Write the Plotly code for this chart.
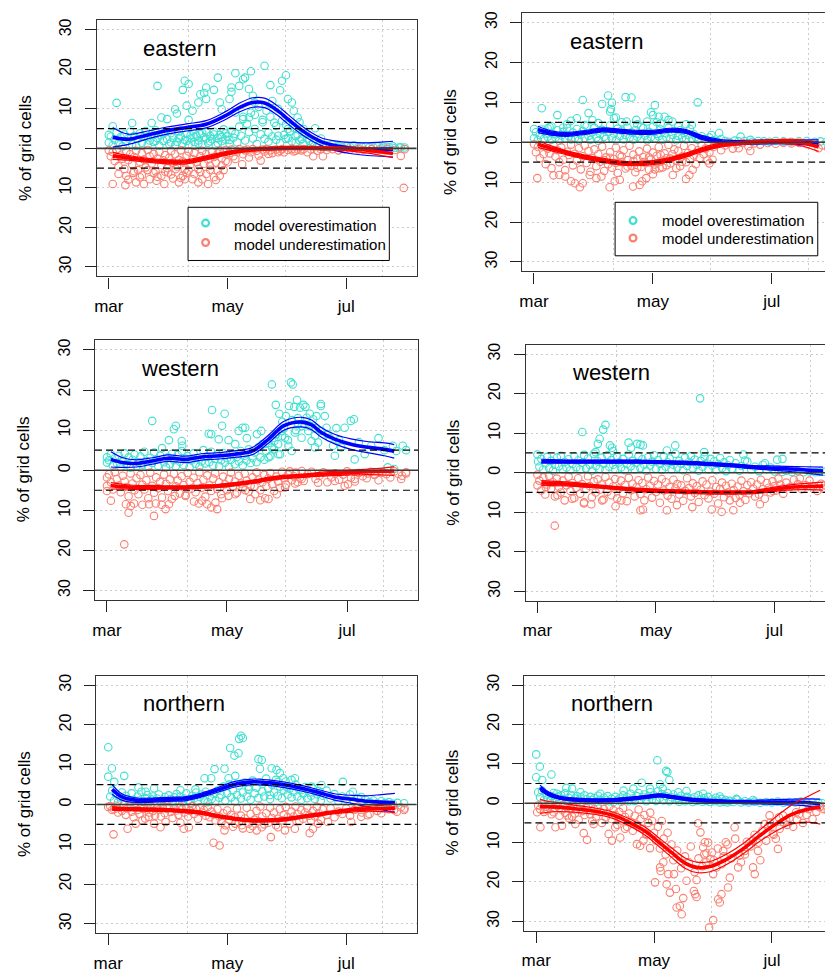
import plotly.graph_objects as go

W, H = 833, 976          # target picture size
BODY_MARGIN = 8          # default page margin around the plot div
FIG_W, FIG_H = W - BODY_MARGIN, H - BODY_MARGIN

# ---------------- axis data ----------------
MONTH_TICKS = [0, 61, 122]          # days since 1 March
MONTH_LABELS = ["mar", "may", "jul"]
GRID_DAYS = [40.7, 90.7, 140.7]
PCT_TICKS = [-30, -20, -10, 0, 10, 20, 30]
PCT_LABELS = ["30", "20", "10", "0", "10", "20", "30"]
THRESHOLDS = [5, -5]
LEGEND_LABELS = ["model overestimation", "model underestimation"]

# ---------------- eastern (left) ----------------
E_L_OVER = [
    (4,11.5),(2,5.6),(0,3.4),(12,6.4),(25,15.8),(27,7.8),(30,7.4),(22,6.4),(34,9.9),(35,8.8),
    (38,14.8),(39,17.1),(41,16.3),(40,10.8),(43,9.5),(41,7.2),(46,11.6),(47,13.7),(50,15.4),(50,12.5),
    (49,14.0),(56,17.9),(54,14.8),(57,11.6),(58,9.9),(62,12.5),(63,14.3),(63,15.4),(65,19.0),(67,15.8),
    (69,17.5),(70,17.9),(72,15.0),(73,19.5),(74,13.3),(75,11.6),(80,20.9),(83,16.0),(84,12.0),(88,14.7),
    (91,18.5),(89,17.1),(92,12.5),(94,11.6),(95,9.5),(97,7.8),(98,6.6),(100,4.9),(106,5.1),(109,2.5),
    (65,9.1),(69,7.4),(72,7.8),(75,4.9),(79,6.6),(82,4.0),(86,5.7),(87,3.2),(91,2.4),(92,4.9),(96,1.5),
    (0,1.5),(1,3.0),(2,0.8),(3,2.2),(4,4.0),(5,1.2),(6,2.8),(7,0.5),(8,3.5),(9,1.8),
    (10,2.5),(11,4.2),(12,1.0),(13,3.1),(14,0.6),(15,2.4),(16,3.8),(17,1.4),(18,2.9),(19,4.4),
    (20,0.9),(21,2.0),(22,3.6),(23,1.6),(24,4.6),(25,2.6),(26,0.7),(27,3.3),(28,1.9),(29,4.1),
    (30,2.3),(31,1.1),(32,3.9),(33,2.7),(34,0.8),(35,1.7),(36,4.3),(37,3.0),(38,1.3),(39,2.1),
    (40,3.7),(41,0.9),(42,2.5),(43,4.5),(44,1.6),(45,3.2),(46,2.0),(47,3.6),(48,1.0),(49,2.8),
    (50,4.0),(51,1.4),(52,3.1),(53,2.3),(54,4.2),(55,0.7),(56,2.6),(57,3.4),(58,1.8),(59,4.8),
    (60,2.2),(61,3.0),(62,1.2),(63,4.4),(64,2.7),(66,1.5),(68,3.2),(70,2.0),(72,4.1),(74,2.5),
    (76,1.1),(78,3.6),(80,2.4),(82,1.7),(84,3.0),(86,2.2),(88,1.3),(90,3.4),(92,2.6),(94,1.8),
    (96,3.1),(98,2.0),(100,1.2),(102,2.5),(104,0.8),
    (20,3.0),(24,1.9),(28,3.8),(32,1.5),(36,2.6),(40,1.9),(42,3.3),(44,2.8),(46,1.2),(48,3.9),
    (50,2.5),(52,1.8),(54,3.5),(56,1.3),(58,2.9),(60,3.8),(62,2.1),(65,3.7),(67,5.5),(69,8.0),
    (71,6.2),(73,9.0),(75,8.5),(77,10.5),(79,7.2),(81,9.5),(83,8.0),(85,6.5),(87,10.0),(89,7.0),
    (91,6.0),(93,4.3),(95,5.2),(97,3.5),(99,2.4),(101,3.8),(103,1.9),
    (105,1.5),(107,0.6),(108,1.2),(110,0.3),(112,0.8),(113,0.2),(115,1.0),(117,0.4),(118,0.6),(120,0.2),
    (122,0.5),(124,0.3),(126,0.8),(128,0.2),(130,0.4),(132,0.6),(134,0.3),(136,0.2),(138,0.5),(140,0.1),
    (141,0.4),(143,0.2),(144,0.3),(146,0.5),(147,0.1),(149,0.2),(150,0.3),(152,0.2),
]
E_L_UNDER = [
    (2,-9.0),(8.5,-9.3),(10,-7.9),(12.6,-6.2),(14,-8.6),(16,-7.3),(18,-9.0),(21,-7.8),(23,-6.2),(24.5,-8.2),
    (27,-6.9),(28.5,-9.0),(30.5,-6.1),(33,-7.6),(34.4,-5.2),(36,-8.6),(38,-6.9),(39,-7.8),(41,-5.6),(44,-6.5),
    (46,-8.6),(48,-7.8),(50,-6.5),(51,-9.0),(54,-7.3),(56,-5.6),(57,-6.9),(58,-4.4),(61,-3.5),(65,-2.7),
    (68.5,-4.0),(72,-2.3),(78,-3.1),(82,-1.4),(87,-1.0),(96,-0.6),(105,-2.0),(110,-2.0),(150,-1.9),(151.5,-10.0),
    (0,-0.5),(1,-2.0),(2,-1.0),(3,-3.2),(4,-0.3),(5,-4.5),(6,-1.8),(7,-2.6),(8,-5.2),(9,-0.8),
    (10,-3.0),(11,-1.5),(12,-4.0),(13,-2.2),(14,-0.6),(15,-5.5),(16,-3.4),(17,-1.2),(18,-2.8),(19,-4.8),
    (20,-0.4),(21,-2.0),(22,-3.8),(23,-1.4),(24,-5.8),(25,-2.6),(26,-0.9),(27,-4.2),(28,-3.0),(29,-1.7),
    (30,-5.0),(31,-2.4),(32,-0.7),(33,-3.6),(34,-1.5),(35,-4.6),(36,-2.9),(37,-0.5),(38,-3.3),(39,-5.4),
    (40,-1.9),(41,-0.8),(42,-4.1),(43,-2.7),(44,-1.2),(45,-3.5),(46,-5.2),(47,-2.0),(48,-0.6),(49,-3.9),
    (50,-1.5),(51,-2.8),(52,-4.4),(53,-0.9),(54,-2.2),(55,-3.6),(56,-1.3),(57,-0.5),(58,-2.5),(59,-1.0),
    (60,-3.2),
    (5,-6.5),(9,-7.0),(13,-5.8),(17,-6.8),(20,-5.5),(25,-7.2),(29,-5.9),(32,-6.6),(37,-7.5),(40,-6.2),
    (43,-7.8),(47,-6.0),(52,-5.4),(55,-8.0),(59,-5.5),
    (60,-0.4),(62,-1.2),(63,-0.3),(64,-2.0),(66,-0.8),(67,-0.2),(69,-1.5),(70,-0.5),(71,-0.3),(73,-1.0),
    (74,-0.2),(76,-0.6),(77,-1.8),(79,-0.3),(80,-0.8),(81,-0.2),(83,-0.5),(84,-1.2),(86,-0.3),(88,-0.6),
    (89,-0.2),(90,-1.0),(92,-0.4),(94,-0.2),(95,-0.8),(97,-0.3),(99,-0.5),(100,-0.2),(102,-1.0),(104,-0.3),
    (107,-0.6),(109,-0.2),(112,-0.4),(115,-0.2),(118,-0.5),(121,-0.2),(124,-0.3),(128,-0.2),(131,-0.4),(135,-0.2),
    (139,-0.3),(143,-0.2),(147,-0.4),(152,-0.2),
]
E_L_FIT_DAY = [2, 10, 20, 30, 40, 50, 60, 67, 74, 80, 86, 92, 98, 104, 110, 116, 124, 133, 140, 146]
E_L_OVER_FIT = [2.8, 2.3, 3.4, 4.5, 5.3, 6.1, 8.3, 10.3, 11.6, 11.5, 9.8, 7.4, 5.0, 3.0, 1.5, 0.7, 0.1, -0.2, -0.2, -0.2]
E_L_OVER_HW = [2.5, 1.3, 1.0, 0.9, 0.9, 0.9, 1.0, 1.1, 1.2, 1.2, 1.2, 1.2, 1.1, 1.0, 1.0, 1.2, 1.4, 1.6, 1.8, 2.0]
E_L_UNDER_FIT = [-1.9, -2.4, -3.0, -3.4, -3.4, -2.4, -1.3, -0.7, -0.3, -0.1, 0.0, 0.1, 0.1, 0.1, 0.0, 0.0, -0.2, -0.5, -0.9, -1.3]
E_L_UNDER_HW = [0.9, 0.6, 0.5, 0.5, 0.5, 0.5, 0.5, 0.4, 0.4, 0.4, 0.4, 0.4, 0.4, 0.4, 0.4, 0.4, 0.5, 0.7, 0.9, 1.0]

# ---------------- eastern (right) ----------------
E_R_OVER = [
    (0,3.3),(4,8.5),(12,6.8),(25,10.6),(28,7.3),(19,5.4),(22,6.0),(35,9.6),(38,11.7),(39,7.7),
    (40,9.9),(39.5,8.3),(41,6.0),(42,6.2),(47,11.3),(50,11.2),(47.5,5.2),(52.5,5.6),(55,3.9),(58,5.2),
    (62,9.3),(61,6.8),(64,6.4),(67,6.4),(69,5.6),(71,5.2),(74,3.9),(78,4.5),(81,4.3),(84,10.0),
    (91,1.8),(95,2.3),(106,1.4),(111,0.6),(60,7.5),(63,5.0),(65,4.7),(53,4.5),(45,5.0),(30,5.5),
    (33,4.8),(26,4.3),(17,4.5),(9,4.0),(7,3.5),(15,3.7),
    (0,1.0),(1,2.5),(2,0.5),(3,1.8),(4,3.2),(5,0.8),(6,2.2),(7,1.4),(8,3.8),(9,0.6),
    (10,2.0),(11,1.2),(12,3.0),(13,0.4),(14,1.7),(15,2.6),(16,0.9),(17,3.5),(18,1.5),(19,0.7),
    (20,2.4),(21,1.1),(22,3.3),(23,0.5),(24,1.9),(25,2.8),(26,1.0),(27,4.0),(28,1.6),(29,0.6),
    (30,2.5),(31,3.6),(32,1.2),(33,0.4),(34,2.1),(35,3.1),(36,1.4),(37,0.8),(38,2.7),(39,4.2),
    (40,1.0),(41,2.2),(42,0.5),(43,3.4),(44,1.6),(45,2.9),(46,0.7),(47,1.8),(48,3.7),(49,1.1),
    (50,2.5),(51,0.6),(52,3.0),(53,1.4),(54,2.0),(55,0.8),(56,3.5),(57,1.7),(58,0.5),(59,2.6),
    (60,1.3),(61,3.9),(62,0.9),(63,2.1),(64,1.5),(65,3.2),(66,0.6),(67,2.4),(68,1.2),(69,3.6),
    (70,0.8),(71,1.9),(72,2.8),(73,0.5),(74,1.6),(75,3.0),(76,1.1),(77,2.3),(78,0.7),(79,1.8),
    (80,3.3),(81,0.9),(82,2.0),(83,1.3),(84,0.6),(86,1.5),(88,0.8),(90,1.2),
    (92,0.5),(94,0.2),(96,0.8),(98,0.3),(100,0.1),(103,0.4),(105,0.2),(108,0.3),(112,0.1),(115,0.3),
    (118,0.2),(121,0.1),(124,0.3),(128,0.2),(132,0.1),(136,0.2),(140,0.3),(144,0.1),(147,0.2),(150,0.1),(152,0.2),
]
E_R_UNDER = [
    (1.7,-9.0),(10,-8.3),(13,-8.2),(16,-8.6),(19,-9.8),(21,-10.3),(23.5,-11.3),(25,-10.3),(28.6,-8.2),(32,-9.0),
    (34.6,-8.6),(38.8,-11.3),(41.4,-9.8),(44,-9.4),(50.8,-11.1),(54.2,-10.7),(55.5,-9.8),(57.6,-9.0),(61,-8.0),(64.4,-6.5),
    (71.2,-8.2),(78,-9.2),(79.7,-8.2),(81.4,-6.9),(90,-5.3),(91.6,-4.4),(105,-1.5),(111,-2.2),(146,-1.5),(152,-9.8),
    (0,-0.5),(1,-2.5),(2,-1.2),(3,-4.0),(4,-0.8),(5,-3.0),(6,-5.5),(7,-1.6),(8,-2.8),(9,-6.5),
    (10,-0.9),(11,-3.6),(12,-2.0),(13,-5.0),(14,-1.3),(15,-4.4),(16,-7.0),(17,-2.4),(18,-3.2),(19,-0.6),
    (20,-5.8),(21,-2.9),(22,-4.6),(23,-1.5),(24,-6.8),(25,-3.5),(26,-0.8),(27,-5.2),(28,-2.2),(29,-7.4),
    (30,-4.0),(31,-1.8),(32,-6.0),(33,-3.0),(34,-4.9),(35,-1.1),(36,-7.2),(37,-3.8),(38,-5.5),(39,-2.5),
    (40,-6.4),(41,-4.2),(42,-1.4),(43,-7.7),(44,-3.3),(45,-5.0),(46,-2.0),(47,-6.6),(48,-4.5),(49,-0.9),
    (50,-5.9),(51,-3.1),(52,-7.5),(53,-4.1),(54,-2.3),(55,-6.2),(56,-3.7),(57,-5.1),(58,-1.6),(59,-6.9),
    (60,-4.3),(61,-2.6),(62,-5.6),(63,-3.4),(64,-1.2),(65,-4.8),(66,-6.3),(67,-2.8),(68,-4.0),(69,-0.7),
    (70,-5.3),(71,-3.0),(72,-1.8),(73,-4.6),(74,-2.2),(75,-6.0),(76,-3.6),(77,-0.9),(78,-5.0),(79,-2.7),
    (80,-4.2),(81,-1.5),(82,-3.3),(83,-5.5),(84,-2.0),(85,-4.0),(86,-0.8),(87,-3.0),(88,-1.6),(89,-4.6),(90,-2.5),
    (36,-4.5),(39,-3.9),(42,-5.2),(45,-3.6),(48,-6.1),(51,-4.7),(53,-6.4),(56,-5.0),(59,-3.8),(62,-6.8),
    (65,-3.2),(68,-5.8),(70,-4.1),(73,-6.5),(76,-4.9),
    (92,-1.2),(94,-0.4),(96,-2.0),(98,-0.8),(100,-0.3),(102,-1.6),(104,-0.5),(107,-0.2),(110,-1.0),(113,-0.3),
    (116,-0.6),(120,-0.2),(124,-0.4),(128,-0.1),(132,-0.3),(136,-0.2),(140,-0.5),(144,-0.2),(148,-0.8),(151,-1.5),
]
E_R_FIT_DAY = [2, 10, 18, 27, 35, 44, 52, 61, 70, 78, 86, 95, 104, 112, 121, 129, 138, 146]
E_R_OVER_FIT = [3.2, 2.2, 2.0, 2.5, 3.1, 2.8, 2.5, 2.5, 3.0, 2.7, 1.2, 0.2, -0.1, 0.0, 0.1, 0.1, 0.0, -0.2]
E_R_OVER_HW = [0.8, 0.5, 0.5, 0.5, 0.5, 0.5, 0.5, 0.5, 0.5, 0.5, 0.5, 0.5, 0.5, 0.5, 0.5, 0.5, 0.6, 0.8]
E_R_UNDER_FIT = [-0.5, -1.7, -2.8, -3.8, -4.5, -5.2, -5.4, -5.1, -4.3, -3.2, -1.9, -0.8, -0.3, 0.0, 0.2, 0.2, -0.2, -1.2]
E_R_UNDER_HW = [0.8, 0.6, 0.5, 0.5, 0.5, 0.5, 0.5, 0.5, 0.5, 0.5, 0.5, 0.5, 0.4, 0.4, 0.4, 0.5, 0.8, 1.1]

# ---------------- western (left) ----------------
W_L_OVER = [
    (0,3.2),(0,1.9),(23,12.3),(35,11.1),(34,10.2),(31.5,7.5),(38,7.3),(38.3,6.1),(53.4,15.0),(59.8,14.1),
    (58.5,11.1),(51.7,9.1),(53,9.0),(56.8,7.7),(61.8,7.5),(65.2,6.5),(66.9,9.8),(68.9,10.6),(70.3,10.6),(71.1,8.0),
    (76.2,9.0),(78.4,9.8),(83.8,21.4),(85.8,16.3),(87.6,14.1),(89.1,12.1),(92.5,16.0),(93.5,21.9),(94.4,21.4),(95.2,15.8),
    (96.6,17.5),(98.1,15.6),(99.8,16.3),(100.9,15.8),(101.5,13.1),(103.1,14.1),(104.8,12.7),(106.5,13.5),(108.7,16.0),(108.7,16.5),
    (110.7,13.5),(111.6,10.6),(113.2,8.1),(114.9,6.1),(115.8,3.6),(116.6,10.5),(120.8,10.6),(119.1,5.7),(123.9,12.3),(125.5,12.7),
    (125.9,2.7),(134.3,6.1),(145.3,6.1),(147,4.8),(150.3,6.1),(152,5.0),(142.7,0.7),(146,0.3),
    (85.1,7.3),(88.8,9.8),(90.5,8.1),(92.2,6.1),(95.5,9.4),(97.2,11.5),(98.9,8.1),(102.3,9.8),(104,7.3),(105.7,8.6),
    (107.3,6.9),(109,9.8),(105.7,5.7),(93.9,4.8),(87.1,4.0),(82.1,3.2),(83.8,5.7),
    (1,2.5),(2,4.0),(3,1.2),(4,3.0),(5,1.8),(6,3.6),(7,0.8),(8,2.2),(9,4.2),(10,1.5),
    (11,3.2),(12,0.6),(13,2.6),(14,3.9),(15,1.0),(16,2.0),(17,3.4),(18,1.4),(19,4.6),(20,2.3),
    (21,0.9),(22,3.1),(23,1.8),(24,4.4),(25,2.7),(26,1.1),(27,3.6),(28,5.5),(29,2.0),(30,0.7),
    (31,3.2),(32,1.5),(33,4.1),(34,2.5),(35,1.0),(36,3.8),(37,2.1),(38,4.8),(39,1.3),(40,2.9),
    (41,3.5),(42,0.8),(43,2.4),(44,4.2),(45,1.6),(46,3.0),(47,0.9),(48,2.2),(49,5.0),(50,1.7),
    (51,3.3),(52,2.0),(53,4.6),(54,1.2),(55,2.8),(56,3.9),(57,1.0),(58,2.5),(59,4.3),(60,1.9),
    (61,3.0),(62,0.8),(63,2.6),(64,4.0),(65,1.5),(66,3.3),(67,2.2),(68,4.8),(69,1.2),(70,3.6),
    (71,2.4),(72,5.2),(73,1.8),(74,3.0),(75,4.4),(76,2.0),(77,5.8),(78,3.2),(79,6.5),(80,2.6),
    (81,4.8),(82,6.8),(83,3.5),(84,8.0),(85,5.2),(86,9.0),(87,6.5),(88,4.0),(89,8.5),(90,10.5),
    (91,13.5),(92,7.5),(94,12.5),(96,10.0),(97,13.0),(99,11.0),(100,11.5),(103,11.0),(106,10.5),(112,9.0),
    (118,7.5),(128,7.0),(131,4.0),(138,8.0),(141,5.0),
]
W_L_UNDER = [
    (0,-5.2),(0,-1.8),(0,-3.9),(2,-7.6),(8.8,-18.5),(9.6,-8.5),(11,-10.6),(12.1,-8.9),(13.8,-8.3),(18,-8.6),
    (21.4,-8.5),(23.9,-11.4),(24.8,-8.3),(27.8,-8.6),(29.8,-9.7),(31.5,-8.5),(34.5,-6.4),(39.9,-6.4),(44.2,-7.8),(46.7,-8.3),
    (48.4,-7.6),(50.9,-8.5),(53,-9.3),(56,-9.7),(55.1,-8.1),(58.5,-7.0),(61.8,-6.4),(65.2,-6.0),(70.3,-5.0),(72.8,-7.2),
    (75.3,-6.0),(77.9,-7.5),(80.4,-7.0),(82.1,-7.2),(86.3,-6.0),(90.5,-4.3),(95.6,-3.3),(98.9,-2.2),(107.3,-3.1),(115.8,-2.7),
    (120.8,-3.9),(122.5,-3.5),(125.9,-2.2),(132.6,-0.8),(136,-1.0),(149.5,-2.2),(152,-0.8),
    (1,-1.0),(2,-3.0),(3,-4.8),(4,-0.5),(5,-2.2),(6,-3.8),(7,-5.5),(8,-1.4),(9,-2.8),(10,-4.2),
    (11,-6.5),(12,-0.8),(13,-3.3),(14,-5.0),(15,-2.0),(16,-6.0),(17,-1.2),(18,-3.6),(19,-4.8),(20,-2.5),
    (21,-7.0),(22,-0.6),(23,-3.9),(24,-5.6),(25,-1.8),(26,-4.5),(27,-2.9),(28,-6.8),(29,-1.1),(30,-3.4),
    (31,-5.2),(32,-2.3),(33,-7.2),(34,-0.9),(35,-4.0),(36,-2.6),(37,-5.8),(38,-1.5),(39,-3.7),(40,-6.2),
    (41,-0.7),(42,-2.9),(43,-4.6),(44,-1.9),(45,-5.5),(46,-3.2),(47,-0.5),(48,-4.4),(49,-2.4),(50,-6.6),
    (51,-1.3),(52,-3.8),(53,-5.2),(54,-2.1),(55,-0.8),(56,-4.7),(57,-3.0),(58,-6.0),(59,-1.6),(60,-3.5),
    (61,-5.0),(62,-2.2),(63,-0.6),(64,-4.1),(65,-2.8),(66,-5.6),(67,-1.4),(68,-3.3),(69,-4.5),(70,-0.9),
    (71,-2.6),(72,-5.3),(73,-3.9),(74,-1.8),(75,-4.2),(76,-0.5),(77,-2.4),(78,-5.0),(79,-3.0),(80,-1.2),
    (81,-4.0),(82,-2.1),(83,-0.7),(84,-3.5),(85,-5.2),(86,-1.6),(87,-2.8),(88,-4.4),(89,-0.4),(90,-2.0),
    (91,-3.6),(92,-1.1),(93,-0.3),(94,-2.5),(95,-1.5),(96,-0.6),(97,-3.0),(98,-1.9),(99,-0.2),(100,-2.7),
    (102,-1.0),(104,-0.4),(106,-2.2),(108,-1.4),(110,-0.5),(112,-3.0),(114,-1.8),(116,-0.8),(118,-2.4),(120,-1.1),
    (122,-0.3),(124,-1.9),(126,-2.8),(128,-0.7),(130,-1.5),(132,-2.0),(134,-0.4),(136,-1.2),(138,-2.5),(140,-0.6),
    (142,-1.0),(144,-1.8),(146,-0.3),(148,-0.9),(150,-1.4),(152,-0.5),
]
W_L_FIT_DAY = [2, 8, 15, 23, 31, 40, 48, 57, 65, 74, 82, 90, 99, 104, 109, 116, 124, 133, 141, 146]
W_L_OVER_FIT = [2.7, 1.9, 1.7, 2.3, 3.0, 2.7, 3.3, 3.6, 4.0, 4.8, 7.7, 11.1, 12.0, 11.3, 9.4, 7.7, 6.5, 5.7, 5.2, 4.7]
W_L_OVER_HW = [1.9, 1.2, 0.9, 0.8, 0.8, 0.8, 0.8, 0.8, 0.8, 0.9, 1.0, 1.1, 1.2, 1.2, 1.2, 1.2, 1.3, 1.4, 1.6, 1.7]
W_L_UNDER_FIT = [-3.9, -4.1, -4.3, -4.3, -4.3, -4.3, -4.1, -3.9, -3.5, -2.9, -2.2, -1.7, -1.4, -1.2, -1.0, -0.8, -0.6, -0.4, -0.3, -0.2]
W_L_UNDER_HW = [0.8, 0.6, 0.5, 0.5, 0.4, 0.4, 0.4, 0.4, 0.4, 0.4, 0.4, 0.4, 0.4, 0.4, 0.5, 0.5, 0.6, 0.7, 0.9, 1.1]

# ---------------- western (right) ----------------
W_R_OVER = [
    (0,4.6),(0.3,2.9),(23.1,10.3),(29.9,5.2),(31.1,7.3),(32,8.6),(33.8,10.9),(35,12.1),(37.3,6.9),(38.4,6.3),
    (38.9,5.5),(46.9,7.6),(48.2,6.3),(51.3,7.3),(53,7.1),(54.3,6.9),(66.6,5.6),(70.9,6.9),(83.7,18.8),(85.8,5.2),
    (106,4.6),(106.8,3.1),(117,2.4),(123.4,3.3),(126.1,3.5),(145,0.2),(151.7,0.2),
    (1,1.5),(2,3.5),(3,0.8),(4,2.4),(5,4.0),(6,1.2),(7,3.0),(8,0.5),(9,2.0),(10,3.8),
    (11,1.6),(12,4.3),(13,0.9),(14,2.7),(15,1.3),(16,3.4),(17,0.6),(18,2.2),(19,4.1),(20,1.4),
    (21,3.1),(22,0.8),(23,2.5),(24,4.5),(25,1.1),(26,3.6),(27,2.0),(28,0.5),(29,4.8),(30,1.7),
    (31,2.9),(32,1.0),(33,3.8),(34,2.3),(35,0.7),(36,4.4),(37,1.5),(38,3.2),(39,2.0),(40,0.9),
    (41,4.0),(42,2.6),(43,1.3),(44,3.5),(45,0.6),(46,2.2),(47,4.6),(48,1.6),(49,3.0),(50,0.8),
    (51,2.5),(52,4.2),(53,1.2),(54,3.4),(55,2.0),(56,0.5),(57,3.9),(58,1.8),(59,2.8),(60,4.4),
    (61,1.0),(62,3.2),(63,2.2),(64,0.7),(65,4.1),(66,1.5),(67,2.6),(68,3.6),(69,0.9),(70,2.0),
    (71,4.8),(72,1.3),(73,3.0),(74,2.3),(75,0.6),(76,3.8),(77,1.7),(78,2.7),(79,4.2),(80,1.1),
    (81,3.3),(82,2.0),(83,0.5),(84,3.0),(85,1.5),(86,4.0),(87,2.4),(88,0.8),(89,3.5),(90,1.8),
    (91,2.9),(92,0.6),(93,2.2),(94,3.7),(95,1.2),(96,2.6),(97,0.4),(98,1.9),(99,3.2),(100,1.0),
    (102,2.4),(104,0.5),(105,1.7),(108,2.8),(110,0.8),(112,1.5),(114,0.4),(116,2.0),(118,0.9),(120,1.3),
    (122,0.3),(124,0.8),(126,0.2),(128,0.5),(131,0.2),(134,0.4),(137,0.1),(140,0.3),(143,0.1),(148,0.2),
]
W_R_UNDER = [
    (0,-0.5),(0,-3.2),(4.3,-3.6),(8.9,-13.4),(10.3,-5.7),(17.9,-6.6),(23.9,-7.8),(27.7,-8.0),(33.3,-7.0),(40.2,-8.5),
    (43.2,-7.0),(53,-9.5),(54.3,-9.3),(66.6,-9.5),(71.8,-8.2),(79.7,-8.7),(89.7,-9.3),(94.8,-9.9),(100.8,-9.5),(104.2,-7.6),
    (114.5,-8.0),(121.3,-4.6),(126.5,-5.3),(135,-1.5),(147,-4.0),(151,-4.5),
    (1,-2.0),(2,-4.5),(3,-1.2),(4,-5.5),(5,-3.0),(6,-0.8),(7,-4.0),(8,-2.4),(9,-6.0),(10,-1.5),
    (11,-3.6),(12,-5.0),(13,-2.0),(14,-7.0),(15,-3.2),(16,-1.0),(17,-4.6),(18,-2.6),(19,-6.4),(20,-3.8),
    (21,-1.4),(22,-5.3),(23,-2.9),(24,-7.5),(25,-4.1),(26,-0.9),(27,-3.4),(28,-6.2),(29,-2.2),(30,-5.0),
    (31,-1.7),(32,-4.3),(33,-3.0),(34,-6.8),(35,-1.1),(36,-4.8),(37,-2.5),(38,-5.7),(39,-3.5),(40,-1.6),
    (41,-6.5),(42,-4.0),(43,-2.0),(44,-5.2),(45,-3.1),(46,-7.2),(47,-1.3),(48,-4.4),(49,-2.8),(50,-6.0),
    (51,-3.7),(52,-1.9),(53,-5.4),(54,-2.6),(55,-7.0),(56,-4.2),(57,-1.2),(58,-3.3),(59,-6.3),(60,-2.1),
    (61,-4.9),(62,-3.0),(63,-7.6),(64,-1.6),(65,-4.5),(66,-2.4),(67,-5.8),(68,-3.6),(69,-6.6),(70,-1.8),
    (71,-4.0),(72,-2.9),(73,-5.5),(74,-3.2),(75,-7.1),(76,-4.6),(77,-1.4),(78,-3.9),(79,-6.0),(80,-2.7),
    (81,-5.1),(82,-3.4),(83,-7.4),(84,-4.3),(85,-2.2),(86,-5.7),(87,-3.0),(88,-6.5),(89,-4.8),(90,-1.9),
    (91,-5.3),(92,-3.6),(93,-7.8),(94,-4.1),(95,-2.5),(96,-6.2),(97,-3.3),(98,-5.0),(99,-7.0),(100,-2.8),
    (101,-4.4),(102,-6.4),(103,-3.5),(104,-5.6),(105,-2.0),(106,-4.7),(107,-6.9),(108,-3.1),(109,-5.2),(110,-2.4),
    (111,-4.0),(112,-6.0),(113,-3.0),(114,-5.5),(115,-1.8),(116,-4.2),(117,-6.6),(118,-2.6),(119,-3.8),(120,-5.0),
    (121,-2.2),(122,-3.4),(123,-4.5),(124,-1.5),(125,-3.0),(126,-4.0),(128,-2.5),(130,-3.6),(132,-1.8),(134,-2.9),
    (136,-4.2),(138,-3.1),(140,-2.0),(142,-3.5),(144,-4.6),(146,-2.8),(148,-3.2),(150,-4.0),(152,-3.4),
]
W_R_FIT_DAY = [2, 17, 34, 51, 68, 85, 102, 111, 119, 128, 138, 147]
W_R_OVER_FIT = [2.9, 2.8, 2.8, 2.8, 2.6, 2.3, 1.8, 1.4, 1.2, 1.0, 0.7, 0.4]
W_R_OVER_HW = [0.5, 0.4, 0.4, 0.4, 0.4, 0.4, 0.4, 0.4, 0.5, 0.6, 0.8, 1.0]
W_R_UNDER_FIT = [-2.6, -2.9, -3.6, -4.3, -4.7, -4.95, -5.0, -4.9, -4.4, -3.8, -3.5, -3.4]
W_R_UNDER_HW = [0.6, 0.5, 0.4, 0.4, 0.4, 0.4, 0.4, 0.4, 0.5, 0.6, 0.8, 1.0]

# ---------------- northern (left) ----------------
N_L_OVER = [
    (0,14.4),(0,7.0),(1.9,9.1),(3.1,5.7),(8.2,7.2),(15.5,4.3),(23.5,4.1),(19.2,3.2),(37,3.6),(44.7,3.8),
    (49.4,6.6),(52.8,6.6),(54.5,8.9),(59.6,9.0),(62.5,14.2),(64.7,12.3),(66.8,12.9),(67.1,16.5),(68.1,17.3),(69,16.7),
    (61.7,6.6),(65.1,7.2),(71.9,4.5),(77,11.4),(78.7,11.2),(77.8,9.0),(83.8,9.1),(86.3,8.7),(88,7.9),(87.1,5.7),
    (89.7,6.6),(82.9,2.4),(91.4,4.5),(94,6.2),(95.7,6.6),(99.1,3.6),(104.2,4.5),(109.3,4.9),(120.3,5.7),(125.4,3.2),
    (129.7,1.9),(148.3,0.4),(151.7,0.3),
    (1,2.0),(2,3.5),(3,1.0),(4,2.6),(5,0.6),(6,1.8),(7,3.0),(8,0.9),(9,2.2),(10,1.4),
    (11,0.5),(12,2.8),(13,1.2),(14,0.4),(15,2.0),(16,1.0),(17,3.2),(18,0.7),(19,1.6),(20,2.4),
    (21,0.5),(22,1.3),(23,2.0),(24,0.8),(25,1.5),(26,2.5),(27,0.6),(28,1.2),(29,1.9),(30,0.9),
    (31,2.3),(32,1.4),(33,0.5),(34,1.8),(35,2.6),(36,1.0),(37,2.0),(38,0.6),(39,1.5),(40,2.8),
    (41,1.1),(42,0.4),(43,2.2),(44,1.6),(45,3.0),(46,0.8),(47,1.9),(48,2.5),(49,1.2),(50,3.2),
    (51,0.6),(52,2.0),(53,1.4),(54,2.7),(55,0.9),(56,3.5),(57,1.7),(58,2.4),(59,4.5),(60,1.0),
    (61,2.8),(62,5.0),(63,1.8),(64,3.6),(65,0.8),(66,2.4),(67,4.8),(68,1.5),(69,3.0),(70,5.5),
    (71,2.0),(72,3.8),(73,1.2),(74,6.0),(75,2.8),(76,4.2),(77,1.6),(78,5.6),(79,3.3),(80,2.0),
    (81,6.5),(82,4.0),(83,1.4),(84,5.0),(85,3.0),(86,6.2),(87,2.2),(88,4.5),(89,1.6),(90,3.6),
    (91,5.8),(92,2.5),(93,4.0),(94,1.8),(95,3.2),(96,5.0),(97,2.0),(98,3.8),(99,1.2),(100,2.8),
    (101,4.4),(102,1.6),(103,3.0),(104,2.2),(105,4.0),(106,1.4),(107,2.6),(108,3.4),(109,1.0),(110,2.2),
    (112,3.5),(114,1.5),(116,2.6),(118,0.9),(120,2.0),(122,1.3),(124,2.5),(126,0.8),(128,1.6),(130,0.5),
    (132,1.2),(134,0.6),(136,1.0),(138,0.3),(140,0.8),(142,0.4),(144,0.6),(146,0.2),
]
N_L_UNDER = [
    (0,-0.6),(2,-1.4),(2.7,-7.5),(9.9,-6.1),(14.1,-4.8),(17.5,-4.0),(20.9,-3.1),(23.5,-4.8),(26.8,-5.7),(29.4,-4.4),
    (37,-4.6),(38.7,-6.1),(41.3,-5.7),(54,-9.6),(57.1,-10.3),(59.6,-6.5),(65.1,-4.8),(68.5,-5.2),(72.7,-6.1),(76.1,-6.5),
    (78.7,-5.7),(83.4,-8.2),(87.1,-5.7),(90.6,-6.5),(95.7,-6.1),(103.3,-7.2),(105,-6.1),(107.6,-4.8),(112.7,-4.4),(124.6,-4.4),
    (129.7,-3.1),(133,-2.7),(146.6,-1.4),(151.7,-1.4),
    (1,-0.4),(3,-1.2),(4,-0.3),(5,-2.0),(6,-0.8),(7,-1.6),(8,-0.2),(9,-2.6),(10,-1.0),(11,-0.5),
    (12,-1.8),(13,-3.2),(14,-0.7),(15,-1.4),(16,-2.4),(17,-0.3),(18,-1.1),(19,-3.5),(20,-0.9),(21,-2.0),
    (22,-0.5),(23,-1.6),(24,-2.8),(25,-0.8),(26,-1.3),(27,-3.0),(28,-0.4),(29,-2.2),(30,-1.0),(31,-0.6),
    (32,-1.9),(33,-3.4),(34,-0.8),(35,-1.5),(36,-2.6),(37,-0.5),(38,-1.2),(39,-2.0),(40,-0.9),(41,-3.0),
    (42,-1.6),(43,-0.4),(44,-2.4),(45,-1.1),(46,-3.6),(47,-0.7),(48,-2.0),(49,-1.4),(50,-2.8),(51,-0.6),
    (52,-3.2),(53,-1.8),(54,-2.5),(55,-4.0),(56,-1.2),(57,-3.0),(58,-4.6),(59,-2.2),(60,-5.2),(61,-1.5),
    (62,-3.8),(63,-2.6),(64,-5.6),(65,-3.2),(66,-1.0),(67,-4.4),(68,-2.8),(69,-6.0),(70,-3.5),(71,-0.8),
    (72,-4.8),(73,-2.4),(74,-5.4),(75,-3.8),(76,-1.6),(77,-4.2),(78,-0.5),(79,-3.0),(80,-5.0),(81,-2.2),
    (82,-4.6),(83,-0.8),(84,-3.4),(85,-2.0),(86,-5.2),(87,-3.6),(88,-1.2),(89,-4.0),(90,-2.6),(91,-0.6),
    (92,-3.2),(93,-4.8),(94,-1.8),(95,-3.0),(96,-0.5),(97,-2.4),(98,-4.2),(99,-1.4),(100,-3.6),(101,-2.0),
    (102,-0.8),(103,-2.8),(104,-4.0),(105,-1.6),(106,-3.0),(107,-0.6),(108,-2.2),(109,-3.8),(110,-1.2),(112,-2.6),
    (114,-0.9),(116,-3.2),(118,-1.8),(120,-2.4),(122,-1.0),(124,-2.8),(126,-1.4),(128,-0.5),(130,-2.0),(132,-1.1),
    (134,-2.4),(136,-0.8),(138,-1.6),(140,-2.2),(142,-0.6),(144,-1.2),(146,-0.4),(148,-1.8),(150,-0.7),(152,-1.0),
]
N_L_FIT_DAY = [2, 7, 14, 23, 31, 40, 48, 57, 65, 74, 82, 91, 99, 108, 116, 125, 133, 140, 147]
N_L_OVER_FIT = [3.8, 1.9, 1.1, 1.1, 1.3, 1.5, 2.4, 3.8, 5.1, 5.7, 5.5, 4.9, 4.1, 3.0, 1.9, 1.3, 0.8, 0.6, 0.4]
N_L_OVER_HW = [1.2, 0.8, 0.6, 0.5, 0.5, 0.5, 0.5, 0.6, 0.7, 0.7, 0.7, 0.7, 0.7, 0.7, 0.8, 1.0, 1.4, 1.9, 2.4]
N_L_UNDER_FIT = [-1.0, -1.1, -1.2, -1.3, -1.4, -1.7, -2.1, -3.0, -3.6, -4.0, -4.0, -3.7, -3.1, -2.5, -1.9, -1.4, -1.1, -1.0, -0.9]
N_L_UNDER_HW = [0.5, 0.4, 0.4, 0.4, 0.4, 0.4, 0.4, 0.4, 0.4, 0.4, 0.4, 0.4, 0.4, 0.4, 0.4, 0.5, 0.6, 0.8, 1.0]

# ---------------- northern (right) ----------------
N_R_OVER = [
    (0,12.4),(0,6.6),(1.9,9.3),(3.1,5.9),(7.9,7.3),(10.8,2.4),(15.6,3.9),(18.6,3.7),(22.9,2.8),(33.2,2.4),
    (45.2,3.2),(50.3,3.7),(54.6,5.2),(58.9,3.7),(62.7,10.9),(64.1,4.8),(65.5,3.7),(67.2,8.2),(67.9,7.9),(68.9,5.9),
    (73.5,2.8),(77.8,3.1),(86.4,2.4),(95,1.7),(103.6,1.1),(112.2,0.8),(148,0.0),(151.7,0.0),
    (1,2.8),(2,1.5),(3,3.2),(4,0.8),(5,2.2),(6,1.2),(7,0.5),(8,1.8),(9,2.6),(10,0.9),
    (11,1.6),(12,0.4),(13,2.0),(14,1.1),(15,2.5),(16,0.6),(17,1.4),(18,2.1),(19,0.3),(20,1.2),
    (21,1.8),(22,0.7),(23,1.5),(24,0.4),(25,2.0),(26,1.0),(27,0.5),(28,1.6),(29,0.8),(30,1.3),
    (31,0.4),(32,1.9),(33,0.9),(34,0.3),(35,1.4),(36,0.7),(37,1.8),(38,0.5),(39,1.1),(40,0.3),
    (41,1.6),(42,0.8),(43,1.2),(44,0.4),(45,2.0),(46,0.9),(47,1.5),(48,0.5),(49,2.4),(50,1.2),
    (51,0.6),(52,1.8),(53,2.6),(54,0.8),(55,1.5),(56,2.2),(57,0.5),(58,1.7),(59,2.8),(60,1.0),
    (61,2.0),(62,0.6),(63,3.0),(64,1.4),(65,2.3),(66,0.7),(67,1.8),(68,2.6),(69,0.5),(70,1.5),
    (71,2.2),(72,0.8),(73,1.3),(74,0.4),(75,1.9),(76,1.0),(77,0.5),(78,1.6),(79,0.8),(80,1.2),
    (81,0.3),(82,1.5),(83,0.6),(84,2.0),(85,0.9),(86,0.4),(87,1.3),(88,0.6),(89,1.6),(90,0.3),
    (91,1.0),(92,0.5),(93,1.4),(94,0.7),(95,0.2),(96,1.1),(97,0.4),(98,0.8),(99,0.2),(100,0.6),
    (102,0.3),(104,0.9),(106,0.2),(108,0.5),(110,0.2),(113,0.4),(116,0.1),(119,0.3),(122,0.2),(125,0.4),
    (128,0.1),(131,0.3),(134,0.2),(137,0.4),(140,0.1),(143,0.3),(146,0.2),
]
N_R_UNDER = [
    (0.5,-2.3),(2.2,-6.1),(4.8,-1.4),(9.1,-2.3),(10,-6.1),(13.4,-5.7),(16,-3.1),(18.6,-3.4),(20.3,-5.3),(24.6,-7.6),
    (26.3,-9.3),(29.7,-5.3),(37.5,-7.8),(39.2,-9.5),(40.9,-6.1),(43.5,-8.7),(46,-6.5),(52.1,-10.4),(53.8,-10.8),(55.5,-9.5),
    (57.2,-7.8),(58.9,-11.4),(61.5,-20.1),(64.1,-16.3),(64.4,-17.2),(65.8,-15.0),(67.5,-20.6),(68.4,-18.0),(69.2,-22.7),(71.3,-18.0),
    (72.3,-21.8),(72.7,-26.5),(74.4,-26.1),(75.3,-28.2),(76.1,-24.1),(77.8,-19.7),(81.6,-22.3),(82.3,-23.1),(83,-23.8),(83,-19.5),
    (83.8,-5.1),(85,-7.4),(86.4,-11.2),(87.3,-9.9),(88.1,-12.7),(89.5,-31.6),(91.6,-29.7),(90.2,-14.2),(91.6,-18.0),(93.3,-16.3),
    (94.2,-24.4),(95,-25.2),(95.9,-23.1),(96.8,-12.1),(98.1,-9.9),(99.3,-21.4),(100.2,-18.9),(102.7,-6.1),(104.5,-16.3),(105.3,-13.3),
    (108,-12.1),(110.1,-10.8),(112.2,-9.5),(112.2,-16.3),(113.1,-18.0),(114.8,-12.1),(118.2,-5.3),(120.8,-3.1),(122.5,-7.8),(125.1,-11.6),
    (125.6,-3.6),(127.7,-3.1),(129.4,-4.4),(134.5,-2.3),(138,-1.4),(146.6,-1.0),(150.9,-1.9),
    (1,-0.6),(2,-1.5),(3,-0.3),(4,-2.2),(5,-0.9),(6,-1.8),(7,-0.4),(8,-2.8),(9,-1.2),(11,-0.7),
    (12,-3.2),(13,-1.6),(14,-0.5),(15,-2.4),(16,-1.0),(17,-3.8),(18,-1.3),(19,-0.6),(20,-2.6),(21,-1.5),
    (22,-4.2),(23,-0.8),(24,-2.0),(25,-3.0),(26,-1.2),(27,-0.5),(28,-2.8),(29,-4.5),(30,-1.6),(31,-3.4),
    (32,-0.9),(33,-2.2),(34,-5.0),(35,-1.4),(36,-3.6),(37,-2.5),(38,-0.7),(39,-4.0),(40,-1.8),(41,-3.0),
    (42,-5.5),(43,-2.2),(44,-4.4),(45,-1.2),(46,-3.5),(47,-6.0),(48,-2.6),(49,-4.8),(50,-7.0),(51,-3.2),
    (52,-5.4),(53,-1.6),(54,-4.0),(55,-6.5),(56,-3.0),(57,-8.0),(58,-5.0),(59,-2.4),(60,-4.5),(61,-7.5),
    (62,-9.5),(63,-6.0),(64,-11.5),(65,-4.5),(66,-9.0),(67,-13.0),(68,-7.5),(70,-10.5),(71,-14.5),(73,-12.0),
    (75,-16.5),(77,-13.5),(79,-15.0),(80,-11.0),(82,-17.5),(84,-14.0),(86,-16.0),(87,-13.0),(88,-15.0),(89,-10.0),
    (91,-12.5),(92,-14.5),(94,-11.5),(96,-15.5),(97,-13.5),(99,-10.5),(101,-14.0),(103,-9.0),(106,-15.0),(108,-13.0),
    (109,-9.8),(111,-11.0),(113,-8.0),(115,-10.0),(116,-14.5),(117,-7.0),(119,-9.5),(120,-6.0),(121,-5.0),(123,-8.0),
    (124,-9.0),(126,-6.5),(128,-4.8),(130,-5.5),(131,-3.8),(133,-6.0),(135,-4.2),(136,-2.8),(138,-5.0),(140,-3.0),
    (141,-1.5),(143,-4.0),(145,-2.2),(147,-0.8),(149,-1.5),(152,-0.5),
]
N_R_FIT_DAY = [2, 6, 12, 20, 30, 40, 50, 57, 64, 70, 77, 83, 90, 98, 107, 115, 124, 132, 140, 147]
N_R_OVER_FIT = [3.9, 2.5, 1.4, 0.9, 0.7, 0.8, 1.2, 1.6, 2.0, 1.6, 1.1, 0.8, 0.6, 0.4, 0.3, 0.3, 0.3, 0.3, 0.2, -0.2]
N_R_OVER_HW = [0.7, 0.5, 0.4, 0.4, 0.4, 0.4, 0.4, 0.4, 0.4, 0.4, 0.4, 0.4, 0.4, 0.4, 0.4, 0.5, 0.6, 0.7, 0.9, 1.2]
N_R_UNDER_FIT = [-0.8, -0.9, -1.0, -1.4, -2.0, -3.1, -5.3, -7.3, -10.1, -12.5, -15.2, -16.3, -16.1, -14.4, -11.6, -8.5, -5.3, -2.9, -1.6, -1.0]
N_R_UNDER_HW = [1.8, 1.4, 1.1, 0.9, 0.8, 0.8, 0.9, 1.0, 1.1, 1.2, 1.3, 1.3, 1.3, 1.3, 1.3, 1.4, 1.8, 2.4, 3.2, 4.3]

# ---------------- styling ----------------
C_OVER_PT = "#40E0D0"
C_UNDER_PT = "#FA8072"
C_OVER_FIT = "#0000FF"
C_UNDER_FIT = "#FF0000"
FONT = "Arial, Liberation Sans, sans-serif"

# panel geometry in target-picture pixels (frame left, right, top, bottom)
PANELS = [
    dict(name="eastern", over=E_L_OVER, under=E_L_UNDER, day=E_L_FIT_DAY, of=E_L_OVER_FIT, oh=E_L_OVER_HW,
         uf=E_L_UNDER_FIT, uh=E_L_UNDER_HW, frame=(94.3, 415, 18.3, 275), xmax=158.08, right=False,
         label=(138, 46.5), ytitle=(22.3, 146),
         legend=dict(box=(185.7, 387.7, 205.7, 259), dot_x=203.3, dot_y=(221.5, 241), text_x=230, text_y=(223.5, 242.5))),
    dict(name="eastern", over=E_R_OVER, under=E_R_UNDER, day=E_R_FIT_DAY, of=E_R_OVER_FIT, oh=E_R_OVER_HW,
         uf=E_R_UNDER_FIT, uh=E_R_UNDER_HW, frame=(521, 833, 11, 270), xmax=153.4, right=True,
         label=(566.7, 40), ytitle=(449, 140),
         legend=dict(box=(614.3, 817.7, 200.7, 254.3), dot_x=632.3, dot_y=(219, 236.5), text_x=659, text_y=(219.3, 237.3))),
    dict(name="western", over=W_L_OVER, under=W_L_UNDER, day=W_L_FIT_DAY, of=W_L_OVER_FIT, oh=W_L_OVER_HW,
         uf=W_L_UNDER_FIT, uh=W_L_UNDER_HW, frame=(92.3, 416.5, 339, 599.3), xmax=158.08, right=False,
         label=(136.7, 367), ytitle=(20.3, 468), legend=None),
    dict(name="western", over=W_R_OVER, under=W_R_UNDER, day=W_R_FIT_DAY, of=W_R_OVER_FIT, oh=W_R_OVER_HW,
         uf=W_R_UNDER_FIT, uh=W_R_UNDER_HW, frame=(524.5, 833, 343.3, 600), xmax=152.1, right=True,
         label=(569, 371), ytitle=(452.5, 471.7), legend=None),
    dict(name="northern", over=N_L_OVER, under=N_L_UNDER, day=N_L_FIT_DAY, of=N_L_OVER_FIT, oh=N_L_OVER_HW,
         uf=N_L_UNDER_FIT, uh=N_L_UNDER_HW, frame=(93.7, 415, 675, 933.3), xmax=158.08, right=False,
         label=(138.3, 703), ytitle=(21.7, 804), legend=None),
    dict(name="northern", over=N_R_OVER, under=N_R_UNDER, day=N_R_FIT_DAY, of=N_R_OVER_FIT, oh=N_R_OVER_HW,
         uf=N_R_UNDER_FIT, uh=N_R_UNDER_HW, frame=(523.3, 833, 675, 930.7), xmax=153.6, right=True,
         label=(567.7, 702.5), ytitle=(451.3, 802.5), legend=None),
]

fig = go.Figure()
shapes, annotations = [], []
layout_axes = {}


def px_x(p):
    return (p - BODY_MARGIN) / FIG_W


def px_y(p):
    return 1 - (p - BODY_MARGIN) / FIG_H


for i, P in enumerate(PANELS, start=1):
    xa = "x" if i == 1 else f"x{i}"
    ya = "y" if i == 1 else f"y{i}"
    xkey = "xaxis" if i == 1 else f"xaxis{i}"
    ykey = "yaxis" if i == 1 else f"yaxis{i}"
    fl, fr, ft, fb = P["frame"]

    ox = [p[0] for p in P["over"]]
    oy = [p[1] for p in P["over"]]
    ux = [p[0] for p in P["under"]]
    uy = [p[1] for p in P["under"]]
    fig.add_trace(go.Scatter(x=ox, y=oy, mode="markers", xaxis=xa, yaxis=ya, showlegend=False,
                             marker=dict(symbol="circle-open", size=7.5, color=C_OVER_PT,
                                         line=dict(width=1.1, color=C_OVER_PT))))
    fig.add_trace(go.Scatter(x=ux, y=uy, mode="markers", xaxis=xa, yaxis=ya, showlegend=False,
                             marker=dict(symbol="circle-open", size=7.5, color=C_UNDER_PT,
                                         line=dict(width=1.1, color=C_UNDER_PT))))

    for fit, hw, col in ((P["of"], P["oh"], C_OVER_FIT), (P["uf"], P["uh"], C_UNDER_FIT)):
        upper = [f + h for f, h in zip(fit, hw)]
        lower = [f - h for f, h in zip(fit, hw)]
        for band in (upper, lower):
            fig.add_trace(go.Scatter(x=P["day"], y=band, mode="lines", xaxis=xa, yaxis=ya, showlegend=False,
                                     line=dict(color=col, width=1.2, shape="spline", smoothing=1.0)))
        fig.add_trace(go.Scatter(x=P["day"], y=fit, mode="lines", xaxis=xa, yaxis=ya, showlegend=False,
                                 line=dict(color=col, width=3.6, shape="spline", smoothing=1.0)))

    layout_axes[xkey] = dict(
        domain=[px_x(fl), min(1.0, px_x(fr))], range=[-6.08, P["xmax"]], anchor=ya,
        tickmode="array", tickvals=MONTH_TICKS, ticktext=MONTH_LABELS,
        ticks="outside", ticklen=11, tickwidth=1, tickcolor="#222",
        tickfont=dict(family=FONT, size=17, color="black"), ticklabelstandoff=3,
        showline=True, linecolor="#333", linewidth=1.2, mirror=True,
        showgrid=False, zeroline=False,
        minor=dict(tickmode="array", tickvals=GRID_DAYS, showgrid=True, gridcolor="#cccccc",
                   griddash="2px,3px", gridwidth=1, ticks=""),
    )
    layout_axes[ykey] = dict(
        domain=[px_y(fb), px_y(ft)], range=[-32.4, 32.4], anchor=xa,
        tickmode="array", tickvals=PCT_TICKS, ticktext=PCT_LABELS, tickangle=-90,
        ticks="outside", ticklen=11, tickwidth=1, tickcolor="#222",
        tickfont=dict(family=FONT, size=16, color="black"), ticklabelstandoff=7,
        showline=True, linecolor="#333", linewidth=1.2, mirror=(not P["right"]),
        showgrid=True, gridcolor="#cccccc", griddash="2px,3px", gridwidth=1, zeroline=False,
    )

    # reference lines
    shapes.append(dict(type="line", xref=f"{xa} domain", yref=ya, x0=0, x1=1, y0=0, y1=0,
                       layer="above", line=dict(color="#3a3a3a", width=1.6)))
    for t in THRESHOLDS:
        shapes.append(dict(type="line", xref=f"{xa} domain", yref=ya, x0=0, x1=1, y0=t, y1=t,
                           layer="above", line=dict(color="black", width=1.2, dash="7px,4px")))

    # panel label
    lx, ly = P["label"]
    annotations.append(dict(x=px_x(lx), y=px_y(ly), xref="paper", yref="paper", text=P["name"],
                            showarrow=False, xanchor="left", yanchor="middle",
                            font=dict(family=FONT, size=22, color="black")))
    # y title
    tx, ty = P["ytitle"]
    annotations.append(dict(x=px_x(tx), y=px_y(ty), xref="paper", yref="paper", text="% of grid cells",
                            showarrow=False, xanchor="center", yanchor="middle", textangle=-90,
                            font=dict(family=FONT, size=17, color="black")))

    L = P["legend"]
    if L:
        bx0, bx1, by0, by1 = L["box"]
        shapes.append(dict(type="rect", xref="paper", yref="paper", x0=px_x(bx0), x1=px_x(bx1),
                           y0=px_y(by1), y1=px_y(by0), fillcolor="white",
                           line=dict(color="black", width=1), layer="above"))
        r = 3.4
        for dy, col in zip(L["dot_y"], (C_OVER_PT, C_UNDER_PT)):
            shapes.append(dict(type="circle", xref="paper", yref="paper",
                               x0=px_x(L["dot_x"] - r), x1=px_x(L["dot_x"] + r),
                               y0=px_y(dy + r), y1=px_y(dy - r),
                               line=dict(color=col, width=2.2), layer="above"))
        for txt, tyy in zip(LEGEND_LABELS, L["text_y"]):
            annotations.append(dict(x=px_x(L["text_x"]), y=px_y(tyy), xref="paper", yref="paper",
                                    text=txt, showarrow=False, xanchor="left", yanchor="middle",
                                    font=dict(family=FONT, size=15, color="black")))

fig.update_layout(
    width=FIG_W, height=FIG_H, autosize=False,
    margin=dict(l=0, r=0, t=0, b=0, pad=0),
    paper_bgcolor="white", plot_bgcolor="white",
    showlegend=False, shapes=shapes, annotations=annotations,
    **layout_axes,
)

fig.write_html("out.html")
